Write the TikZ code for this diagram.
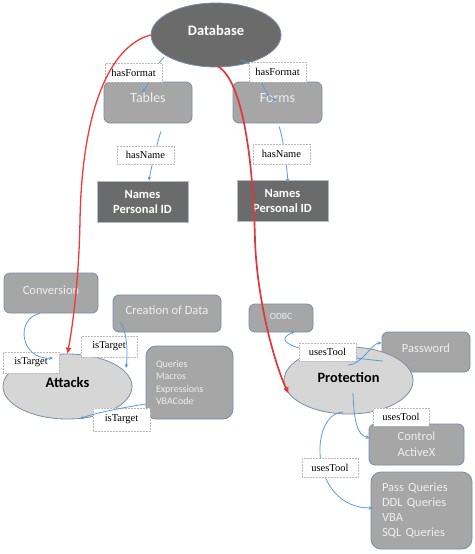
\documentclass[tikz,border=0pt]{standalone}
\usepackage{fontspec}
\setmainfont{Carlito}
\newfontfamily\tnr{Liberation Serif}
\usetikzlibrary{shapes.geometric,arrows.meta,calc}
\definecolor{boxfill}{HTML}{A6A6A6}
\definecolor{boxedge}{HTML}{7B8DA6}
\definecolor{boxtext}{HTML}{EEEEEE}
\definecolor{darkfill}{HTML}{6B6B6B}
\definecolor{ellfill}{HTML}{D6D6D6}
\definecolor{connblue}{HTML}{5B9BD5}
\definecolor{redline}{HTML}{F23A3A}
\definecolor{redline2}{HTML}{E03838}
\begin{document}
\begin{tikzpicture}[x=1pt,y=-1pt,
  graybox/.style={draw=boxedge, line width=0.8pt, fill=boxfill, rounded corners=6pt, text=boxtext, font=\fontsize{12.5}{14}\selectfont, inner sep=0pt},
  darkbox/.style={draw=boxedge!60, line width=0.8pt, fill=darkfill, text=white, font=\bfseries\fontsize{12.5}{15}\selectfont, align=center, inner sep=0pt},
  bigell/.style={ellipse, draw=boxedge, line width=0.8pt, fill=ellfill, font=\bfseries\fontsize{14.5}{16}\selectfont, inner sep=0pt},
  rel/.style={draw=gray!55, densely dotted, line width=0.5pt, fill=white, font=\tnr\fontsize{10.5}{12}\selectfont, inner sep=0pt},
  link/.style={draw=connblue, line width=0.8pt, -{Stealth[length=4pt,width=3.5pt]}},
  redarrow/.style={draw=redline, line width=1.3pt, -{Triangle[length=6pt,width=5pt]}},
]
\useasboundingbox[fill=white] (0,0) rectangle (474,554);

% top part
\node[ellipse, draw=boxedge, line width=0.8pt, fill=darkfill, minimum width=130pt, minimum height=64pt, text=white, font=\bfseries\fontsize{14.5}{16}\selectfont, text height=6pt, text depth=4.8pt, inner sep=0pt] (db) at (216,35) {Database};
\node[graybox, minimum width=88pt, minimum height=41pt, font=\fontsize{14}{16}\selectfont, text height=5pt, text depth=5pt] (tables) at (148,102.5) {Tables};
\node[graybox, minimum width=89pt, minimum height=41pt, font=\fontsize{14}{16}\selectfont, text height=5pt, text depth=5pt] (forms) at (277.5,102.5) {Forms};
\node[darkbox, minimum width=91pt, minimum height=41pt] (names1) at (142.5,201.5) {Names\\Personal ID};
\node[darkbox, minimum width=91pt, minimum height=41pt] (names2) at (282.5,200.5) {Names\\Personal ID};

% attacks part
\node[graybox, minimum width=94pt, minimum height=40pt, text height=6pt, text depth=4pt] (conv) at (51,293) {Conversion};
\node[graybox, minimum width=108pt, minimum height=37pt, text height=5.5pt, text depth=4.5pt] (creation) at (167,313.5) {Creation of Data};
\node[bigell, minimum width=129pt, minimum height=65pt, text height=6.1pt, text depth=3.9pt] (attacks) at (67.5,386.5) {Attacks};
\node[graybox, rounded corners=10pt, minimum height=73pt, text width=67pt, inner xsep=10pt, align=left, font=\fontsize{10}{12.3}\selectfont] (queries) at (189.5,382.5) {Queries\\Macros\\Expressions\\VBACode};

% protection part
\node[graybox, minimum width=64pt, minimum height=28pt, font=\fontsize{9.5}{11}\selectfont, text height=4pt, text depth=2pt] (odbc) at (281,318) {ODBC};
\node[graybox, minimum width=88pt, minimum height=40pt, text height=5pt, text depth=5pt] (password) at (426,352) {Password};
\node[bigell, minimum width=129pt, minimum height=67pt, font=\bfseries\fontsize{14.3}{16}\selectfont, text height=7pt, text depth=2.8pt] (prot) at (348.5,380.5) {Protection};
\node[graybox, minimum width=95pt, minimum height=41pt, align=center, font=\fontsize{12.5}{16}\selectfont] (activex) at (416.5,444.5) {Control\\ActiveX};
\node[graybox, rounded corners=10pt, minimum height=77pt, text width=79pt, inner xsep=11pt, align=left, font=\fontsize{12.5}{15.3}\selectfont] (passq) at (421.5,510.5) {Pass Queries\\DDL Queries\\VBA\\SQL Queries};

% connectors under labels
\draw[link] ($(db.center)+(-52,22)$) .. controls +(-8,8) and +(8,-10) .. ($(tables.center)+(-6,-10)$);
\draw[link] ($(db.center)+(24,25)$) .. controls +(22,4) and +(-15,-2) .. ($(forms.center)+(-0.5,-2.5)$);
\draw[link] ($(tables.south)+(13,8)$) .. controls +(-3,8) and +(2,-12) .. ($(names1.north)+(6.5,0)$);
\draw[link] ($(forms.south)+(1.5,3)$) .. controls +(4,10) and +(-1,-14) .. ($(names2.north)+(5.5,3)$);
\draw[link] ($(password.west)+(1,9)$) .. controls +(-60,-6) and +(-32,14) .. ($(odbc.south)+(14,-1)$);
\draw[link] ($(prot.center)+(-0.5,-15.5)$) .. controls +(14,0) and +(-10,0) .. ($(password.west)+(0,-9)$);
\draw[link] ($(prot.center)+(4.5,12.5)$) .. controls +(1,30) and +(-12,-3) .. ($(activex.west)+(1,-6.5)$);
\draw[link] ($(prot.center)+(-5.5,31.5)$) .. controls +(-35,2) and +(-63,0) .. ($(passq.west)+(2,-2.5)$);

% labels
\node[rel, minimum width=57pt, minimum height=19pt] (hf1) at (133.5,72.5) {hasFormat};
\node[rel, minimum width=57pt, minimum height=20pt] (hf2) at (277.5,72) {hasFormat};
\node[rel, minimum width=57pt, minimum height=18pt] (hn1) at (145.5,155) {hasName};
\node[rel, minimum width=57pt, minimum height=20pt] (hn2) at (281.5,154) {hasName};
\node[rel, minimum width=56pt, minimum height=21pt] (it1) at (31,362.5) {isTarget};
\node[rel, minimum width=56pt, minimum height=21pt] (it2) at (109,346.5) {isTarget};
\node[rel, minimum width=57pt, minimum height=23pt] (it3) at (121.5,419.5) {isTarget};
\node[rel, minimum width=57pt, minimum height=18pt] (ut1) at (327.5,352) {usesTool};
\node[rel, minimum width=56pt, minimum height=18pt] (ut2) at (401,417) {usesTool};
\node[rel, minimum width=56pt, minimum height=19pt] (ut3) at (330,467.5) {usesTool};

% connectors over labels
\draw[link] ($(conv.south)+(-11,0)$) .. controls +(-25,5) and +(-33,2) .. ($(attacks.center)+(-14.5,-28.5)$);
\draw[link] ($(creation.center)+(-47,8.5)$) .. controls +(7,8) and +(2,-14) .. ($(attacks.center)+(58.5,-18.5)$);
\draw[link] ($(queries.west)+(0,21.5)$) .. controls +(-20,3) and +(10,-5) .. ($(attacks.center)+(12.5,32.5)$);

% red connectors
\coordinate (bend1) at (80,220);
\coordinate (bend2) at (255,240);
\draw[redarrow] (db.west) .. controls +(-41,11) and +(2,-110) .. (bend1) .. controls +(-1,60) and +(5,-27) .. (attacks.north);
\draw[redarrow, draw=redline2, line width=1.7pt] ($(db.south)+(2,-1)$) .. controls +(25,15) and +(-2,-80) .. (bend2) .. controls +(2,60) and +(-14,-30) .. (prot.192);
\end{tikzpicture}
\end{document}
